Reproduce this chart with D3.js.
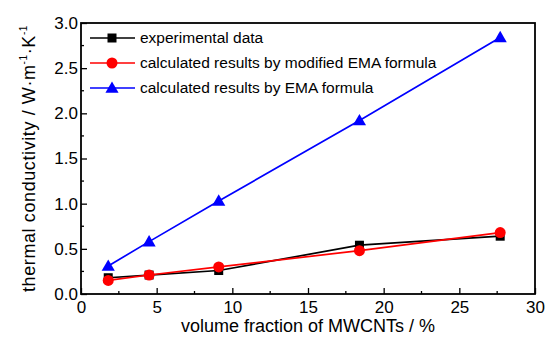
<!doctype html>
<html>
<head>
<meta charset="utf-8">
<script src="https://cdn.jsdelivr.net/npm/d3@7"></script>
<style>
  body { margin: 0; background: #fff; }
  text { font-family: "Liberation Sans", Arial, sans-serif; }
</style>
</head>
<body>
<svg width="545" height="341"></svg>
<script>
  // volume fraction (%) of MWCNTs
  let fractions = [1.8, 4.5, 9.1, 18.4, 27.7]
  let experimental = [0.18, 0.21, 0.26, 0.54, 0.64]
  let modifiedEMA = [0.15, 0.21, 0.30, 0.48, 0.68]
  let plainEMA = [0.31, 0.58, 1.03, 1.92, 2.84]

  let xTicks = [0, 5, 10, 15, 20, 25, 30]
  let yTicks = [0, 0.5, 1.0, 1.5, 2.0, 2.5, 3.0]

  let series = [
    { name: "experimental data", values: experimental, color: "#000", shape: "square" },
    { name: "calculated results by modified EMA formula", values: modifiedEMA, color: "#ff0000", shape: "circle" },
    { name: "calculated results by EMA formula", values: plainEMA, color: "#0000ff", shape: "triangle" }
  ]

  let svg = d3.select("svg")
  let m = { left: 81, right: 10, top: 23, bottom: 47 }
  let w = 545 - m.left - m.right, h = 341 - m.top - m.bottom

  let x = d3.scaleLinear().domain([0, 30]).range([m.left, m.left + w])
  let y = d3.scaleLinear().domain([0, 3]).range([m.top + h, m.top])

  // minor ticks
  let xMinor = d3.range(2.5, 30, 5)
  let yMinor = d3.range(0.25, 3, 0.5)

  let xAxis = svg.append("g").attr("transform", `translate(0,${m.top + h})`)
    .call(d3.axisBottom(x).tickValues(xTicks).tickFormat(d3.format("d")).tickSizeInner(-6).tickSizeOuter(0).tickPadding(4))
  xAxis.append("g").selectAll("line").data(xMinor).enter().append("line")
    .attr("x1", d => x(d)).attr("x2", d => x(d)).attr("y1", 0).attr("y2", -3)
    .attr("stroke", "#000").attr("stroke-width", 1.3)

  let yAxis = svg.append("g").attr("transform", `translate(${m.left},0)`)
    .call(d3.axisLeft(y).tickValues(yTicks).tickFormat(d3.format(".1f")).tickSizeInner(-6).tickSizeOuter(0).tickPadding(3))
  yAxis.append("g").selectAll("line").data(yMinor).enter().append("line")
    .attr("y1", d => y(d)).attr("y2", d => y(d)).attr("x1", 0).attr("x2", 3)
    .attr("stroke", "#000").attr("stroke-width", 1.3)

  svg.selectAll(".tick line").attr("stroke-width", 1.3)
  svg.selectAll(".domain").remove()
  svg.selectAll(".tick text").attr("font-size", 17).attr("fill", "#000")
    .attr("font-family", "'Liberation Sans', Arial, sans-serif")
  xAxis.selectAll(".tick text").attr("dy", "0.9em")

  // frame
  svg.append("rect").attr("x", m.left).attr("y", m.top).attr("width", w).attr("height", h)
    .attr("fill", "none").attr("stroke", "#000").attr("stroke-width", 1.8)

  let line = d3.line().x((d, i) => x(fractions[i])).y(d => y(d))

  function marker(g, shape, color, cx, cy) {
    if (shape === "square") {
      g.append("rect").attr("x", cx - 4.5).attr("y", cy - 4.5).attr("width", 9).attr("height", 9).attr("fill", color)
    } else if (shape === "circle") {
      g.append("circle").attr("cx", cx).attr("cy", cy).attr("r", 5.5).attr("fill", color)
    } else {
      g.append("path").attr("d", d3.symbol().type(d3.symbolTriangle).size(75)())
        .attr("transform", `translate(${cx},${cy + 1})`).attr("fill", color)
    }
  }

  for (let s of series) {
    let g = svg.append("g")
    g.append("path").datum(s.values).attr("d", line)
      .attr("fill", "none").attr("stroke", s.color).attr("stroke-width", 1.7)
    s.values.forEach((v, i) => marker(g, s.shape, s.color, x(fractions[i]), y(v)))
  }

  // legend
  let legend = svg.append("g")
  series.forEach((s, i) => {
    let ly = 38 + i * 25
    legend.append("line").attr("x1", 90).attr("x2", 135).attr("y1", ly).attr("y2", ly)
      .attr("stroke", s.color).attr("stroke-width", 1.7)
    marker(legend, s.shape, s.color, 112, ly)
    legend.append("text").attr("x", 140).attr("y", ly).attr("dy", "0.35em")
      .attr("font-size", 15.5).text(s.name)
  })

  // axis titles
  svg.append("text").attr("x", x(15)).attr("y", 332).attr("text-anchor", "middle")
    .attr("font-size", 18).text("volume fraction of MWCNTs / %")

  let yt = svg.append("text").attr("transform", `translate(35,${m.top + h / 2}) rotate(-90)`)
    .attr("text-anchor", "middle").attr("font-size", 18).attr("letter-spacing", 0.6)
  yt.append("tspan").text("thermal conductivity / W·m")
  yt.append("tspan").attr("dy", -8).attr("font-size", 10).text("-1")
  yt.append("tspan").attr("dy", 8).text("·K")
  yt.append("tspan").attr("dy", -8).attr("font-size", 10).text("-1")
</script>
</body>
</html>
